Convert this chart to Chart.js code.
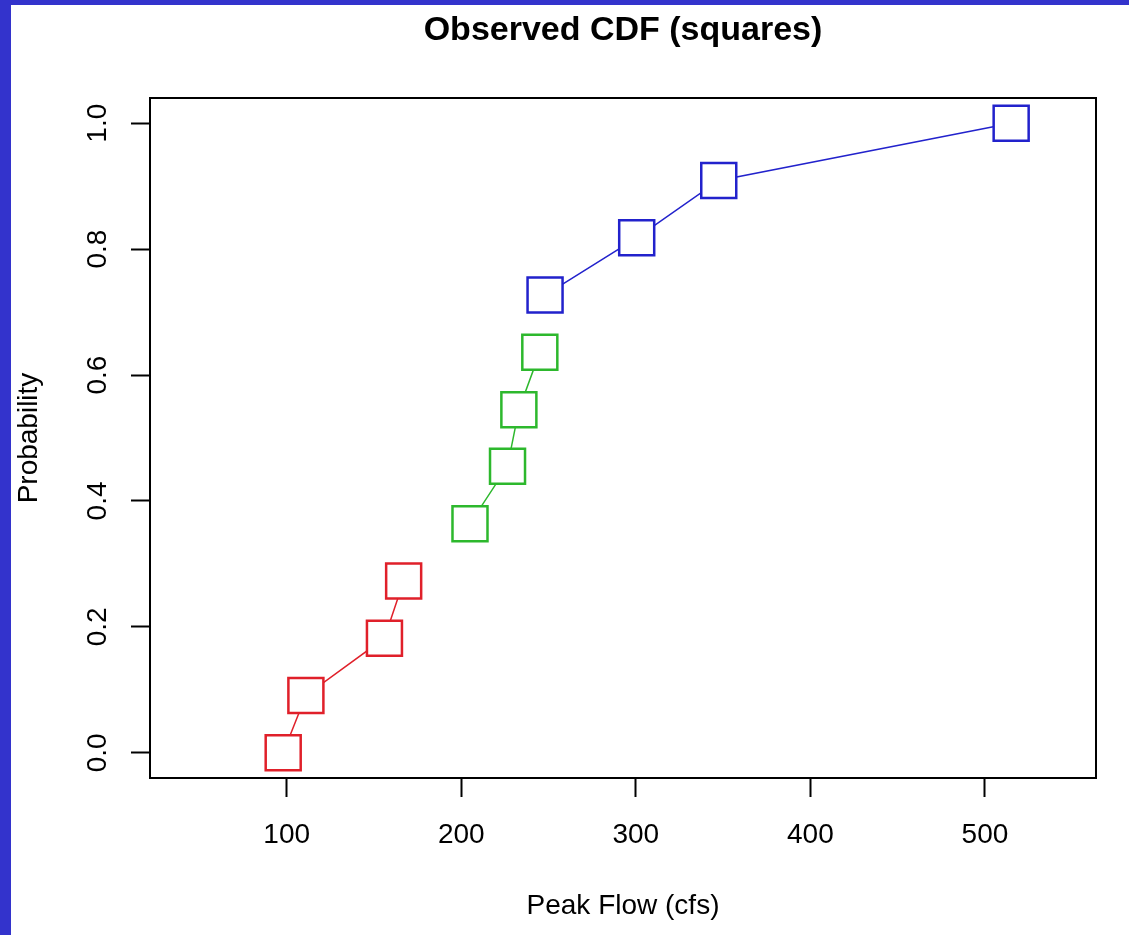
<!DOCTYPE html>
<html>
<head>
<meta charset="utf-8">
<title>Observed CDF (squares)</title>
<script src="https://cdn.jsdelivr.net/npm/chart.js@4/dist/chart.umd.min.js"></script>
<style>
  html, body { margin: 0; padding: 0; background: #3333cc; }
  canvas { display: block; }
</style>
</head>
<body>
<canvas id="cdf" width="1129" height="935"></canvas>
<script>
// Peak flow (cfs) of each observation, grouped into three ranges
const lowFlow = [98, 111, 156, 167];
const midFlow = [205, 226.5, 233, 245];
const highFlow = [248, 300.5, 347.5, 515];

// Empirical cumulative probability of each observation
const lowProb = [0.0, 0.091, 0.182, 0.273];
const midProb = [0.364, 0.455, 0.545, 0.636];
const highProb = [0.727, 0.818, 0.909, 1.0];

// Axis tick values
const flowTicks = [100, 200, 300, 400, 500];
const probTicks = [0.0, 0.2, 0.4, 0.6, 0.8, 1.0];

const FONT = '"Liberation Sans", Arial, Helvetica, sans-serif';

function pairs(xs, ys) {
  return xs.map((x, i) => ({ x: x, y: ys[i] }));
}

function series(label, xs, ys, color) {
  return {
    label: label,
    data: pairs(xs, ys),
    borderColor: color,
    borderWidth: 1.5,
    pointStyle: 'rect',
    pointRadius: 24.75,
    pointBorderWidth: 2.5,
    pointBorderColor: color,
    pointBackgroundColor: '#ffffff',
    showLine: true,
    tension: 0,
    fill: false
  };
}

// Blue frame with white page inside
const pageBackground = {
  id: 'pageBackground',
  beforeDraw(chart) {
    const ctx = chart.ctx;
    ctx.save();
    ctx.fillStyle = '#3333cc';
    ctx.fillRect(0, 0, chart.width, chart.height);
    ctx.fillStyle = '#ffffff';
    ctx.fillRect(11, 5, chart.width - 11, chart.height - 5);
    ctx.restore();
  }
};

// Full box round the plotting region
const plotBox = {
  id: 'plotBox',
  afterDraw(chart) {
    const a = chart.chartArea;
    const ctx = chart.ctx;
    ctx.save();
    ctx.strokeStyle = '#000000';
    ctx.lineWidth = 2;
    ctx.strokeRect(a.left, a.top, a.right - a.left, a.bottom - a.top);
    ctx.restore();
  }
};

new Chart(document.getElementById('cdf'), {
  type: 'scatter',
  data: {
    datasets: [
      series('low', lowFlow, lowProb, '#e0202a'),
      series('mid', midFlow, midProb, '#2db82d'),
      series('high', highFlow, highProb, '#2222cc')
    ]
  },
  options: {
    responsive: false,
    devicePixelRatio: 1,
    animation: false,
    events: [],
    layout: { padding: { left: 0, right: 33, top: 0, bottom: 0 } },
    plugins: {
      legend: { display: false },
      tooltip: { enabled: false },
      title: {
        display: true,
        fullSize: false,
        text: 'Observed CDF (squares)',
        color: '#000000',
        font: { family: FONT, size: 34, weight: 'bold', lineHeight: 1.2 },
        padding: { top: 10, bottom: 47.2 }
      }
    },
    scales: {
      x: {
        type: 'linear',
        position: 'bottom',
        min: 21.7,
        max: 563.6,
        afterBuildTicks: (s) => { s.ticks = flowTicks.map(v => ({ value: v })); },
        afterFit: (s) => { s.height = 157; },
        grid: {
          display: true,
          drawOnChartArea: false,
          drawTicks: true,
          tickLength: 19,
          tickWidth: 2,
          tickColor: '#000000'
        },
        border: { display: true, color: '#000000', width: 2 },
        ticks: {
          color: '#000000',
          padding: 21,
          maxRotation: 0,
          font: { family: FONT, size: 28, lineHeight: 1.2 },
          callback: (v) => String(v)
        },
        title: {
          display: true,
          text: 'Peak Flow (cfs)',
          color: '#000000',
          font: { family: FONT, size: 28, lineHeight: 1.2 },
          padding: { top: 0, bottom: 12 }
        }
      },
      y: {
        type: 'linear',
        position: 'left',
        min: -0.04,
        max: 1.04,
        afterBuildTicks: (s) => { s.ticks = probTicks.map(v => ({ value: v })); },
        afterFit: (s) => { s.width = 150; },
        grid: {
          display: true,
          drawOnChartArea: false,
          drawTicks: true,
          tickLength: 19,
          tickWidth: 2,
          tickColor: '#000000'
        },
        border: { display: true, color: '#000000', width: 2 },
        ticks: {
          color: '#000000',
          padding: 13,
          minRotation: 90,
          maxRotation: 90,
          crossAlign: 'center',
          font: { family: FONT, size: 28, lineHeight: 1.2 },
          callback: (v) => Number(v).toFixed(1)
        },
        title: {
          display: true,
          text: 'Probability',
          color: '#000000',
          font: { family: FONT, size: 28, lineHeight: 1.2 },
          padding: { top: 12, bottom: 0 }
        }
      }
    }
  },
  plugins: [pageBackground, plotBox]
});
</script>
</body>
</html>
